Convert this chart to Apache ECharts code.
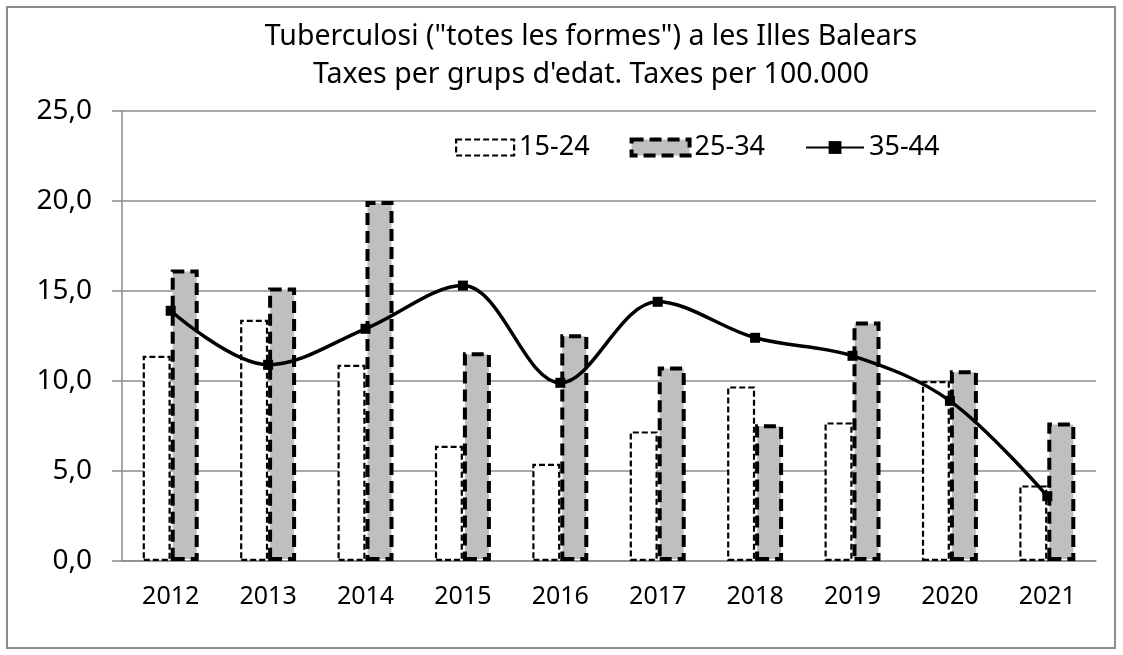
<!DOCTYPE html>
<html>
<head>
<meta charset="utf-8">
<script src="https://cdn.jsdelivr.net/npm/echarts@6/dist/echarts.min.js"></script>
<style>
  html, body { margin: 0; padding: 0; background: #fff; }
  #chart { width: 1123px; height: 655px; }
</style>
</head>
<body>
<div id="chart"></div>
<script>
// data
const years = ['2012', '2013', '2014', '2015', '2016', '2017', '2018', '2019', '2020', '2021'];
const age15to24 = [11.4, 13.4, 10.9, 6.4, 5.4, 7.2, 9.7, 7.7, 10.0, 4.2];
const age25to34 = [16.2, 15.2, 20.0, 11.6, 12.6, 10.8, 7.6, 13.3, 10.6, 7.7];
const age35to44 = [13.9, 10.9, 12.9, 15.3, 9.9, 14.4, 12.4, 11.4, 8.9, 3.6];
const seriesNames = ['15-24', '25-34', '35-44'];

const font = 'Noto Sans';
const gray = '#8c8c8c';

const style1524 = { color: '#fff', borderColor: '#000', borderWidth: 2.2, borderType: [6, 3] };
const style2534 = { color: '#bfbfbf', borderColor: '#000', borderWidth: 4, borderType: [12, 6] };

var chart = echarts.init(document.getElementById('chart'));

var option = {
  animation: false,
  graphic: [{
    type: 'rect',
    shape: { x: 7, y: 7, width: 1108, height: 641 },
    style: { fill: 'none', stroke: gray, lineWidth: 2 },
    silent: true
  }],
  title: {
    text: 'Tuberculosi ("totes les formes") a les Illes Balears\nTaxes per grups d\'edat. Taxes per 100.000',
    left: 586,
    top: 13,
    textAlign: 'center',
    textStyle: { fontFamily: font, fontSize: 28.5, fontWeight: 'normal', color: '#000', lineHeight: 38 }
  },
  legend: {
    top: 129,
    left: 450,
    itemWidth: 58,
    itemHeight: 16,
    itemGap: 40,
    textStyle: { fontFamily: font, fontSize: 27, color: '#000' },
    data: [
      { name: seriesNames[0], icon: 'rect', itemStyle: style1524 },
      { name: seriesNames[1], icon: 'rect', itemStyle: style2534 },
      { name: seriesNames[2] }
    ]
  },
  grid: { left: 122, right: 27, top: 111, bottom: 94 },
  xAxis: {
    type: 'category',
    data: years,
    axisLine: { lineStyle: { color: gray, width: 1.5 } },
    axisTick: { length: 7, lineStyle: { color: gray, width: 1.5 } },
    axisLabel: { fontFamily: font, fontSize: 25, color: '#000', margin: 23 }
  },
  yAxis: {
    type: 'value',
    min: 0,
    max: 25,
    interval: 5,
    axisLine: { show: true, lineStyle: { color: gray, width: 1.5 } },
    axisTick: { show: true, length: 10, lineStyle: { color: gray, width: 1.5 } },
    splitLine: { lineStyle: { color: gray, width: 1.5 } },
    axisLabel: {
      fontFamily: font, fontSize: 28, color: '#000', margin: 30,
      formatter: function (v) { return v.toFixed(1).replace('.', ','); }
    }
  },
  series: [
    {
      name: seriesNames[0],
      type: 'bar',
      data: age15to24,
      barWidth: 28,
      barGap: '0%',
      itemStyle: style1524
    },
    {
      name: seriesNames[1],
      type: 'bar',
      data: age25to34,
      barWidth: 28,
      barGap: '0%',
      itemStyle: style2534
    },
    {
      name: seriesNames[2],
      type: 'line',
      data: age35to44,
      smooth: 0.35,
      symbol: 'rect',
      symbolSize: 10,
      lineStyle: { color: '#000', width: 3.5 },
      itemStyle: { color: '#000' }
    }
  ]
};

chart.setOption(option);
</script>
</body>
</html>
